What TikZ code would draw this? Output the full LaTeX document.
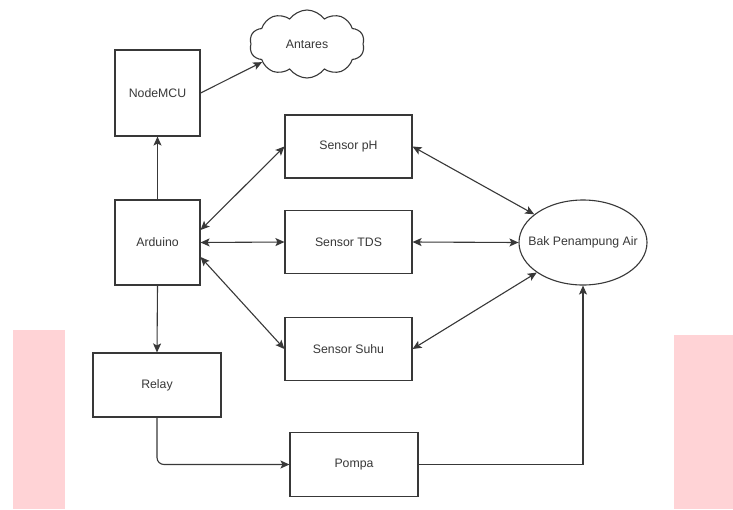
\documentclass[tikz,border=0pt]{standalone}
\usepackage{fontspec}
\setmainfont{Liberation Sans}
\usetikzlibrary{shapes.geometric,shapes.symbols,arrows.meta}
\definecolor{ink}{HTML}{383838}
\definecolor{wm}{HTML}{FFD3D6}
\begin{document}
\begin{tikzpicture}[x=1pt,y=-1pt,
  every node/.style={font=\fontsize{12.3}{14}\selectfont, text=ink},
  box/.style={draw=ink, line width=1.1pt, rectangle, inner sep=0pt},
  tip/.tip={Stealth[length=9pt,width=8pt,inset=2pt]},
  conn/.style={draw=ink, line width=1.1pt, -tip},
  biconn/.style={draw=ink, line width=1.1pt, tip-tip}]
\useasboundingbox (0,0) rectangle (733,509);
\fill[white] (0,0) rectangle (733,509);
\fill[wm] (13,330) rectangle (65,509);
\fill[wm] (674,335) rectangle (733,509);

\node[box, minimum width=85pt, minimum height=86pt] (nodemcu) at (157.5,93) {NodeMCU};
\node[box, minimum width=85pt, minimum height=85pt] (arduino) at (157.5,242.5) {Arduino};
\node[box, minimum width=127pt, minimum height=63pt] (ph) at (348.5,146.5) {Sensor pH};
\node[box, minimum width=127pt, minimum height=63pt] (tds) at (348.5,242) {Sensor TDS};
\node[box, minimum width=127pt, minimum height=63pt] (suhu) at (348.5,349) {Sensor Suhu};
\node[box, minimum width=128pt, minimum height=64pt] (relay) at (157,385) {Relay};
\node[box, minimum width=128pt, minimum height=64pt] (pompa) at (354,464.5) {Pompa};
\node[draw=ink, line width=1.1pt, ellipse, minimum width=128pt, minimum height=85pt, inner sep=0pt,
      label={center:Bak Penampung Air}] (bak) at (583,242.5) {};
\node[draw=ink, line width=1.1pt, cloud, cloud puffs=10, cloud puff arc=110, aspect=1.7, minimum width=115pt, minimum height=68pt, inner sep=0pt] (antares) at (307,44) {Antares};

\draw[conn] (arduino.north) -- (nodemcu.south);
\draw[conn] (nodemcu.east) -- (antares.202);
\draw[biconn] ([yshift=12.5pt]arduino.east) -- (ph.west);
\draw[biconn] (arduino.east) -- (tds.west);
\draw[biconn] ([yshift=-14.5pt]arduino.east) -- (suhu.west);
\draw[biconn] (ph.east) -- (bak.150);
\draw[biconn] (tds.east) -- (bak.west);
\draw[biconn] (suhu.east) -- (bak.213);
\draw[conn] (arduino.south) -- (relay.north);
\draw[conn, rounded corners=7pt] (relay.south) |- (pompa.west);
\draw[conn] (pompa.east) -| (bak.south);
\end{tikzpicture}
\end{document}
